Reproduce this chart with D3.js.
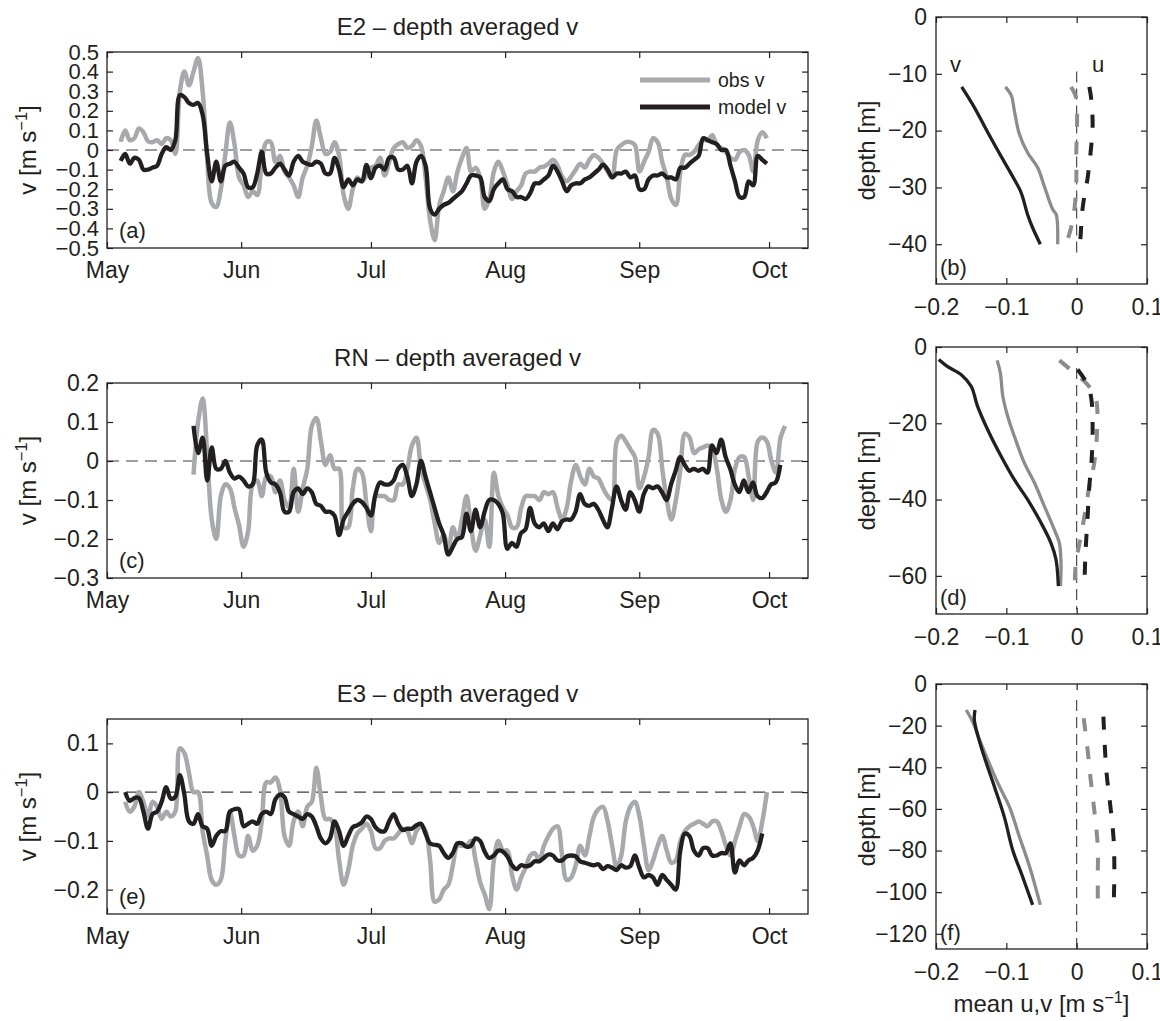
<!DOCTYPE html>
<html>
<head>
<meta charset="utf-8">
<script src="https://cdn.jsdelivr.net/npm/d3@7"></script>
<style>
  body { margin: 0; background: #fff; }
  svg text { font-family: "Liberation Sans", Arial, Helvetica, sans-serif; fill: #231f20; }
</style>
</head>
<body>
<svg id="fig" width="1160" height="1021"></svg>
<script>
// ---------------- data ----------------
const monthDates  = ["2009-05-01", "2009-06-01", "2009-07-01", "2009-08-01", "2009-09-01", "2009-10-01"];
const monthLabels = ["May", "Jun", "Jul", "Aug", "Sep", "Oct"];
const timeDomain  = ["2009-05-01", "2009-10-10"];

// E2 depth-averaged v (m/s), evenly sampled between the span dates
const e2Span = ["2009-05-04T04:00Z", "2009-09-30T12:00Z"];
const e2Obs = [
  0.042, 0.10, 0.05, 0.06, 0.11, 0.09, 0.045, 0.04, 0.05, 0.03,
  0.06, 0.05, -0.02, 0.30, 0.40, 0.33, 0.40, 0.47, 0.30, -0.05,
  -0.27, -0.29, -0.20, -0.02, 0.14, 0.03, -0.14, -0.18, -0.24, -0.21,
  -0.23, -0.06, 0.04, 0.04, -0.06, -0.03, -0.11, -0.14, -0.18, -0.24,
  -0.14, -0.08, 0.02, 0.15, 0.06, -0.02, -0.01, 0.04, -0.03, -0.23,
  -0.30, -0.20, -0.14, -0.16, -0.13, -0.09, -0.08, -0.04, -0.13, -0.06,
  0.01, 0.03, 0.04, 0.01, 0.02, 0.05, 0.02, -0.14, -0.36, -0.46,
  -0.28, -0.21, -0.14, -0.21, -0.11, -0.04, 0.01, -0.11, -0.09, -0.14,
  -0.30, -0.25, -0.11, -0.06, -0.11, -0.18, -0.25, -0.21, -0.18, -0.12,
  -0.11, -0.11, -0.09, -0.085, -0.07, -0.05, -0.08, -0.135, -0.16, -0.135,
  -0.10, -0.07, -0.09, -0.05, -0.025, -0.04, -0.07, -0.11, -0.14, 0.0,
  0.025, 0.04, 0.04, 0.025, -0.11, -0.06, -0.01, 0.06, 0.04, -0.06,
  -0.14, -0.25, -0.28, -0.11, -0.025, -0.025, -0.01, 0.025, 0.05, 0.05,
  0.075, 0.025, 0.01, -0.01, -0.04, -0.05, -0.01, 0.0, -0.025, -0.11,
  0.05, 0.09, 0.06
];
const e2Model = [
  -0.056, -0.02, -0.07, -0.04, -0.05, -0.10, -0.10, -0.09, -0.08, -0.02,
  0.015, 0.0, 0.05, 0.28, 0.27, 0.24, 0.23, 0.24, 0.18, -0.02,
  -0.16, -0.06, -0.16, -0.08, -0.07, -0.06, -0.09, -0.12, -0.19, -0.19,
  -0.12, -0.01, -0.12, -0.12, -0.09, -0.07, -0.10, -0.13, -0.06, -0.03,
  -0.06, -0.07, -0.076, -0.06, -0.07, -0.12, -0.12, -0.04, -0.10, -0.19,
  -0.15, -0.18, -0.15, -0.16, -0.076, -0.144, -0.09, -0.08, -0.10, -0.04,
  -0.04, -0.10, -0.10, -0.08, -0.17, -0.06, -0.03, -0.08, -0.30, -0.33,
  -0.30, -0.28, -0.27, -0.25, -0.23, -0.21, -0.17, -0.13, -0.13, -0.14,
  -0.24, -0.26, -0.20, -0.17, -0.15, -0.20, -0.21, -0.24, -0.24, -0.25,
  -0.22, -0.17, -0.17, -0.15, -0.13, -0.08, -0.11, -0.16, -0.21, -0.18,
  -0.17, -0.17, -0.15, -0.14, -0.12, -0.10, -0.075, -0.10, -0.14, -0.12,
  -0.12, -0.11, -0.14, -0.13, -0.20, -0.20, -0.15, -0.13, -0.13, -0.12,
  -0.14, -0.14, -0.15, -0.09, -0.09, -0.07, -0.05, -0.03, 0.06, 0.05,
  0.04, 0.03, 0.0, 0.0, -0.08, -0.16, -0.24, -0.24, -0.16, -0.18,
  -0.03, -0.05, -0.07
];
const e2Ticks = [-0.5, -0.4, -0.3, -0.2, -0.1, 0, 0.1, 0.2, 0.3, 0.4, 0.5];

// RN depth-averaged v
const rnObsSpan   = ["2009-05-21T00:00Z", "2009-10-04T17:00Z"];
const rnModelSpan = ["2009-05-21T00:00Z", "2009-10-03T14:00Z"];
const rnObs = [
  -0.035, 0.10, 0.16, 0.02, -0.15, -0.20, -0.09, -0.06, -0.07, -0.12,
  -0.165, -0.22, -0.18, -0.06, -0.05, -0.09, -0.04, -0.04, -0.08, -0.05,
  -0.10, -0.12, -0.02, -0.13, -0.07, -0.02, 0.09, 0.11, 0.05, -0.01,
  0.015, -0.02, -0.02, -0.17, -0.17, -0.07, -0.02, -0.03, -0.11, -0.18,
  -0.09, -0.09, -0.09, -0.10, -0.10, -0.06, -0.06, -0.02, 0.04, 0.06,
  -0.02, -0.06, -0.10, -0.16, -0.21, -0.19, -0.23, -0.17, -0.20, -0.15,
  -0.09, -0.17, -0.23, -0.19, -0.15, -0.22, -0.03, -0.09, -0.12, -0.14,
  -0.17, -0.17, -0.12, -0.09, -0.09, -0.09, -0.10, -0.08, -0.085, -0.08,
  -0.12, -0.15, -0.12, -0.05, -0.01, -0.04, -0.06, -0.02, -0.04, -0.045,
  -0.07, -0.09, -0.10, 0.05, 0.065, 0.05, 0.03, 0.01, -0.07, -0.04,
  0.01, 0.08, 0.07, -0.02, -0.10, -0.15, -0.10, -0.02, 0.07, 0.06,
  0.02, 0.03, 0.035, 0.04, 0.03, -0.02, -0.10, -0.13, -0.10, -0.02,
  0.01, 0.01, -0.04, -0.10, 0.05, 0.06, 0.05, 0.00, -0.03, 0.06,
  0.09
];
const rnModel = [
  0.09, 0.02, 0.06, -0.05, 0.035, -0.02, -0.02, 0.0, -0.03, -0.045,
  -0.04, -0.05, -0.065, -0.06, 0.04, 0.055, -0.03, -0.055, -0.06, -0.08,
  -0.13, -0.13, -0.08, -0.07, -0.085, -0.07, -0.08, -0.11, -0.115, -0.13,
  -0.13, -0.14, -0.19, -0.15, -0.13, -0.11, -0.10, -0.105, -0.12, -0.14,
  -0.085, -0.055, -0.06, -0.06, -0.05, -0.02, -0.01, -0.04, -0.09, -0.06,
  0.0, -0.04, -0.08, -0.12, -0.16, -0.19, -0.24, -0.22, -0.20, -0.195,
  -0.135, -0.18, -0.125, -0.17, -0.13, -0.10, -0.10, -0.11, -0.135, -0.225,
  -0.21, -0.22, -0.185, -0.175, -0.12, -0.16, -0.17, -0.16, -0.18, -0.16,
  -0.175, -0.155, -0.15, -0.15, -0.13, -0.085, -0.11, -0.115, -0.11, -0.125,
  -0.15, -0.17, -0.12, -0.065, -0.10, -0.125, -0.08, -0.10, -0.13, -0.085,
  -0.065, -0.07, -0.065, -0.08, -0.10, -0.06, -0.025, 0.01, -0.01, -0.025,
  -0.02, -0.025, -0.02, -0.03, 0.04, 0.02, 0.055, 0.01, -0.02, -0.06,
  -0.08, -0.05, -0.08, -0.055, -0.09, -0.095, -0.08, -0.06, -0.055, -0.01
];
const rnTicks = [-0.3, -0.2, -0.1, 0, 0.1, 0.2];

// E3 depth-averaged v
const e3ObsSpan   = ["2009-05-05T05:00Z", "2009-09-30T12:00Z"];
const e3ModelSpan = ["2009-05-05T05:00Z", "2009-09-29T10:00Z"];
const e3Obs = [
  -0.02, -0.04, -0.03, 0.0, -0.02, -0.05, -0.02, -0.03, -0.055, -0.04,
  -0.05, -0.04, 0.09, 0.08, 0.04, 0.0, 0.0, -0.08, -0.13, -0.18,
  -0.19, -0.18, -0.10, -0.04, -0.09, -0.13, -0.13, -0.09, -0.12, -0.11,
  -0.06, 0.02, 0.02, 0.03, 0.005, -0.09, -0.11, -0.06, -0.04, -0.07,
  -0.03, -0.02, 0.05, -0.01, -0.055, -0.055, -0.07, -0.14, -0.19, -0.16,
  -0.11, -0.085, -0.075, -0.065, -0.08, -0.115, -0.115, -0.10, -0.095, -0.095,
  -0.085, -0.075, -0.08, -0.105, -0.08, -0.07, -0.08, -0.14, -0.225, -0.22,
  -0.20, -0.19, -0.15, -0.11, -0.11, -0.11, -0.10, -0.14, -0.185, -0.21,
  -0.24, -0.14, -0.10, -0.12, -0.12, -0.17, -0.20, -0.175, -0.155, -0.13,
  -0.125, -0.14, -0.11, -0.09, -0.075, -0.07, -0.13, -0.18, -0.175, -0.15,
  -0.11, -0.13, -0.09, -0.05, -0.035, -0.03, -0.06, -0.11, -0.155, -0.13,
  -0.06, -0.03, -0.02, -0.05, -0.11, -0.16, -0.14, -0.11, -0.09, -0.12,
  -0.145, -0.14, -0.10, -0.08, -0.07, -0.065, -0.06, -0.065, -0.07, -0.06,
  -0.06, -0.08, -0.11, -0.13, -0.10, -0.07, -0.045, -0.05, -0.07, -0.10,
  -0.06, 0.0
];
const e3Model = [
  0.0, -0.018, -0.012, -0.012, -0.04, -0.075, -0.045, -0.04, -0.02, 0.01,
  -0.013, -0.01, 0.035, -0.005, -0.06, -0.065, -0.045, -0.07, -0.075, -0.11,
  -0.09, -0.08, -0.08, -0.04, -0.035, -0.035, -0.07, -0.065, -0.06, -0.065,
  -0.045, -0.04, -0.045, -0.015, -0.005, -0.01, -0.04, -0.045, -0.05, -0.055,
  -0.045, -0.05, -0.07, -0.095, -0.105, -0.095, -0.06, -0.08, -0.11, -0.09,
  -0.072, -0.068, -0.062, -0.05, -0.055, -0.072, -0.08, -0.08, -0.06, -0.045,
  -0.065, -0.078, -0.075, -0.075, -0.068, -0.065, -0.085, -0.105, -0.108, -0.11,
  -0.125, -0.135, -0.125, -0.105, -0.105, -0.112, -0.11, -0.095, -0.10, -0.122,
  -0.135, -0.13, -0.12, -0.122, -0.132, -0.15, -0.158, -0.15, -0.152, -0.15,
  -0.142, -0.142, -0.135, -0.128, -0.13, -0.14, -0.14, -0.132, -0.13, -0.132,
  -0.142, -0.145, -0.148, -0.15, -0.148, -0.158, -0.152, -0.155, -0.16, -0.15,
  -0.155, -0.152, -0.13, -0.155, -0.175, -0.17, -0.175, -0.19, -0.17, -0.18,
  -0.19, -0.20, -0.12, -0.085, -0.09, -0.12, -0.13, -0.115, -0.115, -0.13,
  -0.13, -0.125, -0.125, -0.105, -0.165, -0.14, -0.15, -0.14, -0.135, -0.12,
  -0.085
];
const e3Ticks = [-0.2, -0.1, 0, 0.1];

// mean profiles: [velocity (m/s), depth (m)]
const bModelV = [[-0.1635,-12.3],[-0.1455,-15.9],[-0.1265,-20.3],[-0.1076,-24.5],[-0.0886,-28.6],[-0.079,-30.9],[-0.0697,-34.8],[-0.0626,-37.1],[-0.0517,-40.0]];
const bObsV   = [[-0.1014,-12.3],[-0.093,-13.8],[-0.0886,-16.5],[-0.0815,-20.6],[-0.0697,-23.9],[-0.0555,-26.5],[-0.046,-29.8],[-0.034,-33.9],[-0.029,-34.8],[-0.027,-40.0]];
const bObsU   = [[-0.008,-12.3],[-0.001,-14.1],[0.0005,-19.4],[-0.0005,-23.6],[-0.0005,-28.9],[-0.003,-33.6],[-0.008,-37.1],[-0.015,-40.0]];
const bModelU = [[0.018,-12.3],[0.021,-14.7],[0.0227,-19.4],[0.020,-23.6],[0.0156,-28.3],[0.0085,-33.6],[0.005,-40.0]];

const dModelV = [[-0.196,-3.3],[-0.184,-5.1],[-0.1645,-7.2],[-0.150,-10.3],[-0.141,-15.5],[-0.1265,-21.7],[-0.1076,-28.6],[-0.0886,-34.8],[-0.0697,-40.0],[-0.0507,-46.1],[-0.0365,-51.4],[-0.0294,-55.7],[-0.026,-62.7]];
const dObsV   = [[-0.113,-3.5],[-0.1085,-6.8],[-0.105,-12.9],[-0.098,-18.2],[-0.0886,-23.4],[-0.0744,-30.4],[-0.060,-35.6],[-0.046,-41.7],[-0.0318,-47.9],[-0.0246,-51.4],[-0.0223,-56.6],[-0.023,-62.7]];
const dObsU   = [[-0.0246,-3.5],[-0.003,-6.8],[0.0156,-9.9],[0.0275,-13.8],[0.029,-21.7],[0.025,-30.4],[0.018,-36.5],[0.011,-44.4],[0.004,-51.4],[-0.001,-56.6],[-0.003,-62.7]];
const dModelU = [[0.0014,-5.9],[0.0156,-9.9],[0.021,-13.8],[0.0227,-21.7],[0.021,-30.4],[0.018,-36.5],[0.0156,-44.4],[0.0133,-51.4],[0.012,-56.6],[0.011,-62.7]];

const fModelV = [[-0.1445,-12.5],[-0.1455,-17.3],[-0.136,-30.1],[-0.117,-49.3],[-0.103,-63.7],[-0.091,-79.7],[-0.077,-92.5],[-0.0626,-106.1]];
const fObsV   = [[-0.157,-12.5],[-0.148,-18.1],[-0.136,-28.5],[-0.112,-47.7],[-0.0957,-58.9],[-0.0815,-73.3],[-0.067,-87.7],[-0.0517,-106.1]];
const fObsU   = [[0.010,-16.5],[0.0156,-31.7],[0.020,-46.1],[0.025,-60.5],[0.030,-78.1],[0.030,-92.5],[0.030,-106.1]];
const fModelU = [[0.038,-15.7],[0.040,-30.1],[0.043,-44.5],[0.048,-58.9],[0.0526,-74.9],[0.0536,-90.9],[0.0526,-106.1]];

const profileXTicks = [-0.2, -0.1, 0, 0.1];

// ---------------- drawing ----------------
const INK = "#231f20", OBS_GREY = "#a7a9ac", PROFILE_GREY = "#8c8c8c";
const svg = d3.select("#fig");
svg.append("rect").attr("width", 1160).attr("height", 1021).attr("fill", "#fff");

const minus = "\u2212";
const fmt1 = v => Math.abs(v) < 1e-9 ? "0" : (v < 0 ? minus : "") + Math.abs(v).toFixed(1);
const fmt0 = v => v === 0 ? "0" : (v < 0 ? minus : "") + Math.abs(v);

function styleAxis(sel, size) {
  sel.select(".domain").remove();
  sel.selectAll(".tick line").attr("stroke", INK).attr("stroke-width", 1.2);
  sel.selectAll(".tick text").attr("font-size", size).attr("fill", INK);
}

function unitLabel(g, prefix, size) {
  g.append("tspan").text(prefix + " [m s");
  g.append("tspan").attr("dy", -9).attr("font-size", size * 0.68).text(minus + "1");
  g.append("tspan").attr("dy", 9).text("]");
}

function sampleTimes(span, n) {
  const a = +new Date(span[0]), b = +new Date(span[1]);
  return d3.range(n).map(i => new Date(a + (b - a) * i / (n - 1)));
}

// ---- time-series panels ----
const TX0 = 107, TX1 = 808;
const x = d3.scaleUtc()
  .domain(timeDomain.map(d => new Date(d + "T00:00Z")))
  .range([TX0, TX1]);
const months = monthDates.map(d => new Date(d + "T00:00Z"));

function timePanel(p) {
  const g = svg.append("g");
  const y = d3.scaleLinear().domain(p.yDomain).range([p.bottom, p.top]);

  g.append("line")
    .attr("x1", TX0).attr("x2", TX1).attr("y1", y(0)).attr("y2", y(0))
    .attr("stroke", "#3c3c3c").attr("stroke-width", 1.2).attr("stroke-dasharray", "12,7");

  const line = d3.line().x(d => x(d[0])).y(d => y(d[1])).curve(d3.curveCatmullRom.alpha(0.5));
  g.append("path")
    .datum(d3.zip(sampleTimes(p.obsSpan, p.obs.length), p.obs))
    .attr("d", line).attr("fill", "none").attr("stroke", OBS_GREY)
    .attr("stroke-width", 4.5).attr("stroke-linejoin", "round");
  g.append("path")
    .datum(d3.zip(sampleTimes(p.modelSpan, p.model.length), p.model))
    .attr("d", line).attr("fill", "none").attr("stroke", INK)
    .attr("stroke-width", 4.3).attr("stroke-linejoin", "round");

  g.append("rect")
    .attr("x", TX0).attr("y", p.top).attr("width", TX1 - TX0).attr("height", p.bottom - p.top)
    .attr("fill", "none").attr("stroke", INK).attr("stroke-width", 1.3);

  g.append("g").attr("transform", `translate(0,${p.bottom})`)
    .call(d3.axisBottom(x).tickValues(months).tickFormat((d, i) => monthLabels[i]).tickSize(-6).tickPadding(14))
    .call(styleAxis, 23);
  g.append("g").attr("transform", `translate(0,${p.top})`)
    .call(d3.axisTop(x).tickValues(months).tickFormat("").tickSize(-6))
    .call(styleAxis, 23);
  g.append("g").attr("transform", `translate(${TX0},0)`)
    .call(d3.axisLeft(y).tickValues(p.yTicks).tickFormat(fmt1).tickSize(-6).tickPadding(8))
    .call(styleAxis, p.tickSize || 23);
  g.append("g").attr("transform", `translate(${TX1},0)`)
    .call(d3.axisRight(y).tickValues(p.yTicks).tickFormat("").tickSize(-6))
    .call(styleAxis, 23);

  g.append("text").attr("x", (TX0 + TX1) / 2).attr("y", p.top - 17)
    .attr("text-anchor", "middle").attr("font-size", 24).text(p.title);
  g.append("text").attr("x", 119).attr("y", p.bottom - 10).attr("font-size", 22).text(p.tag);

  const yl = g.append("text").attr("font-size", 24).attr("text-anchor", "middle")
    .attr("transform", `translate(36,${(p.top + p.bottom) / 2}) rotate(-90)`);
  unitLabel(yl, "v", 24);
  return g;
}

const gA = timePanel({ top: 52, bottom: 248, yDomain: [-0.5, 0.5], yTicks: e2Ticks, tickSize: 22,
  title: "E2 \u2013 depth averaged v", tag: "(a)",
  obs: e2Obs, model: e2Model, obsSpan: e2Span, modelSpan: e2Span });
timePanel({ top: 383, bottom: 578, yDomain: [-0.3, 0.2], yTicks: rnTicks,
  title: "RN \u2013 depth averaged v", tag: "(c)",
  obs: rnObs, model: rnModel, obsSpan: rnObsSpan, modelSpan: rnModelSpan });
timePanel({ top: 719, bottom: 914, yDomain: [-0.25, 0.15], yTicks: e3Ticks,
  title: "E3 \u2013 depth averaged v", tag: "(e)",
  obs: e3Obs, model: e3Model, obsSpan: e3ObsSpan, modelSpan: e3ModelSpan });

// legend inside panel (a)
const legend = gA.append("g");
[["obs v", OBS_GREY, 80], ["model v", INK, 107]].forEach(([label, color, ly]) => {
  legend.append("line").attr("x1", 640).attr("x2", 710).attr("y1", ly).attr("y2", ly)
    .attr("stroke", color).attr("stroke-width", 5);
  legend.append("text").attr("x", 718).attr("y", ly + 7).attr("font-size", 19.5).text(label);
});

// ---- mean profile panels ----
const PX0 = 936, PX1 = 1147;
const xp = d3.scaleLinear().domain([-0.2, 0.1]).range([PX0, PX1]);

function profilePanel(p) {
  const g = svg.append("g");
  const y = d3.scaleLinear().domain([p.zMin, 0]).range([p.bottom, p.top]);

  g.append("line")
    .attr("x1", xp(0)).attr("x2", xp(0)).attr("y1", y(p.zeroSpan[0])).attr("y2", y(p.zeroSpan[1]))
    .attr("stroke", "#3c3c3c").attr("stroke-width", 1.1).attr("stroke-dasharray", "11,6");

  const line = d3.line().x(d => xp(d[0])).y(d => y(d[1])).curve(d3.curveCatmullRom.alpha(0.5));
  const series = [
    [p.obsV, PROFILE_GREY, null, 3.3],
    [p.modelV, INK, null, 3.3],
    [p.obsU, PROFILE_GREY, "13,15", 4],
    [p.modelU, INK, "13,15", 4]
  ];
  series.forEach(([pts, color, dash, w]) => {
    g.append("path").datum(pts).attr("d", line).attr("fill", "none")
      .attr("stroke", color).attr("stroke-width", w)
      .attr("stroke-dasharray", dash).attr("stroke-linejoin", "round");
  });

  g.append("rect")
    .attr("x", PX0).attr("y", p.top).attr("width", PX1 - PX0).attr("height", p.bottom - p.top)
    .attr("fill", "none").attr("stroke", INK).attr("stroke-width", 1.3);

  g.append("g").attr("transform", `translate(0,${p.bottom})`)
    .call(d3.axisBottom(xp).tickValues(profileXTicks).tickFormat(fmt1).tickSize(-6).tickPadding(15))
    .call(styleAxis, 23);
  g.append("g").attr("transform", `translate(0,${p.top})`)
    .call(d3.axisTop(xp).tickValues(profileXTicks).tickFormat("").tickSize(-6))
    .call(styleAxis, 23);
  g.append("g").attr("transform", `translate(${PX0},0)`)
    .call(d3.axisLeft(y).tickValues(p.zTicks).tickFormat(fmt0).tickSize(-6).tickPadding(9))
    .call(styleAxis, 23);
  g.append("g").attr("transform", `translate(${PX1},0)`)
    .call(d3.axisRight(y).tickValues(p.zTicks).tickFormat("").tickSize(-6))
    .call(styleAxis, 23);

  g.append("text").attr("x", 940).attr("y", p.bottom - 9).attr("font-size", 22).text(p.tag);
  g.append("text").attr("font-size", 24).attr("text-anchor", "middle")
    .attr("transform", `translate(875,${(p.top + p.bottom) / 2}) rotate(-90)`)
    .text("depth [m]");
  return g;
}

const gB = profilePanel({ top: 17, bottom: 284, zMin: -47, zTicks: [-40, -30, -20, -10, 0],
  zeroSpan: [-9.6, -41.8], tag: "(b)",
  obsV: bObsV, modelV: bModelV, obsU: bObsU, modelU: bModelU });
profilePanel({ top: 347, bottom: 614, zMin: -70, zTicks: [-60, -40, -20, 0],
  zeroSpan: [-5.5, -68.8], tag: "(d)",
  obsV: dObsV, modelV: dModelV, obsU: dObsU, modelU: dModelU });
profilePanel({ top: 684, bottom: 949, zMin: -127.3, zTicks: [-120, -100, -80, -60, -40, -20, 0],
  zeroSpan: [-7.7, -127.3], tag: "(f)",
  obsV: fObsV, modelV: fModelV, obsU: fObsU, modelU: fModelU });

gB.append("text").attr("x", 950).attr("y", 72).attr("font-size", 22).text("v");
gB.append("text").attr("x", 1092).attr("y", 72).attr("font-size", 22).text("u");

const xl = svg.append("text").attr("x", (PX0 + PX1) / 2).attr("y", 1012)
  .attr("text-anchor", "middle").attr("font-size", 24);
unitLabel(xl, "mean u,v", 24);
</script>
</body>
</html>
